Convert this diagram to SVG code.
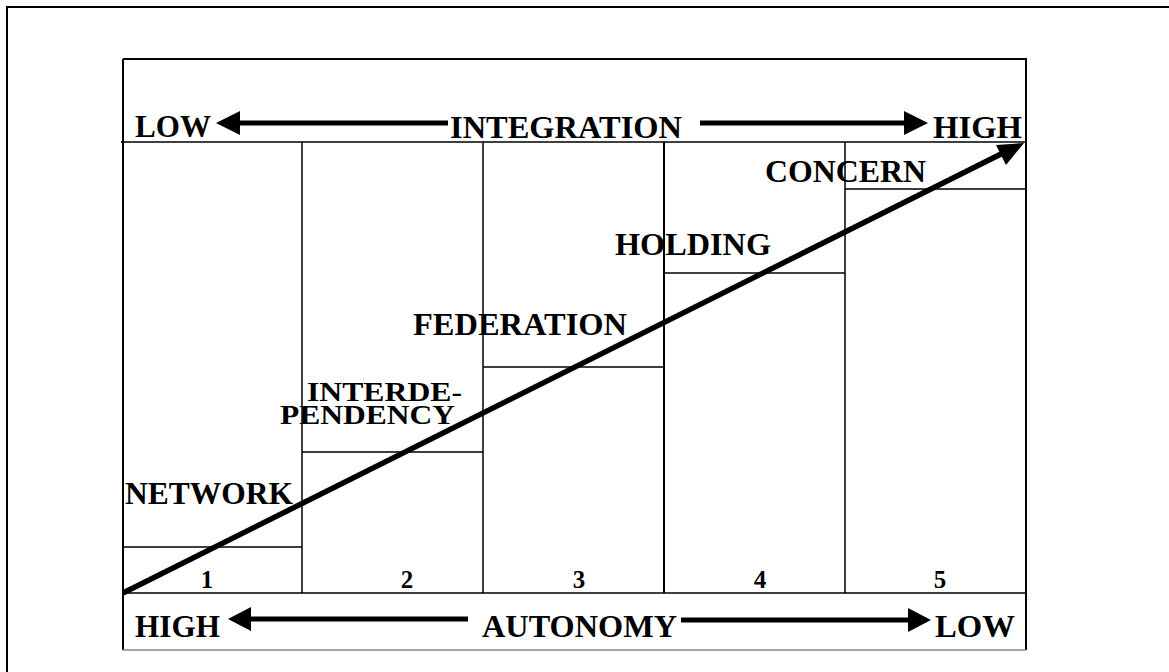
<svg xmlns="http://www.w3.org/2000/svg" width="1169" height="672" viewBox="0 0 1169 672">
<style>
.t{font-family:"Liberation Serif","Times New Roman",serif;font-weight:bold;font-size:31px;fill:#000}
.n{font-family:"Liberation Serif","Times New Roman",serif;font-weight:bold;font-size:25px;fill:#000;text-anchor:middle}
.g{stroke:#000;stroke-width:1.5;fill:none}
.a{stroke:#000;stroke-width:5;fill:none}
</style>
<rect width="1169" height="672" fill="#fff"/>
<rect x="7" y="7" width="1180" height="700" fill="none" stroke="#000" stroke-width="2"/>
<g id="frame">
<path d="M123,59 H1026 V650" fill="none" stroke="#000" stroke-width="2"/>
<path d="M123,59 V650" fill="none" stroke="#000" stroke-width="2"/>
<path d="M123,650 H1026" fill="none" stroke="#888" stroke-width="1.5"/>
<path d="M121,142 H1026 M123,593 H1026" class="g"/>
</g>
<g id="col1">
<path d="M123,547 H302" class="g"/>
<text class="t" x="125" y="504" textLength="168" lengthAdjust="spacingAndGlyphs">NETWORK</text>
<text class="n" x="207" y="588">1</text>
</g>
<g id="col2">
<path d="M302,142 V593 M302,452 H483" class="g"/>
<text class="t" x="307" y="401" textLength="155" lengthAdjust="spacingAndGlyphs" style="font-size:27px">INTERDE-</text>
<text class="t" x="280" y="424" textLength="175" lengthAdjust="spacingAndGlyphs" style="font-size:27px">PENDENCY</text>
<text class="n" x="407" y="588">2</text>
</g>
<g id="col3">
<path d="M483,142 V593 M483,367 H664" class="g"/>
<text class="t" x="413" y="335" textLength="214" lengthAdjust="spacingAndGlyphs">FEDERATION</text>
<text class="n" x="579" y="588">3</text>
</g>
<g id="col4">
<path d="M664,142 V593" stroke="#000" stroke-width="2" fill="none"/>
<path d="M664,273 H845" class="g"/>
<text class="t" x="615" y="255" textLength="156" lengthAdjust="spacingAndGlyphs">HOLDING</text>
<text class="n" x="760" y="588">4</text>
</g>
<g id="col5">
<path d="M845,142 V593 M845,189 H1026" class="g"/>
<text class="t" x="765" y="182" textLength="161" lengthAdjust="spacingAndGlyphs">CONCERN</text>
<text class="n" x="940" y="588">5</text>
</g>
<g id="integration-axis">
<text class="t" x="135" y="137" textLength="76" lengthAdjust="spacingAndGlyphs">LOW</text>
<text class="t" x="450" y="138" textLength="232" lengthAdjust="spacingAndGlyphs">INTEGRATION</text>
<text class="t" x="933" y="138" textLength="89" lengthAdjust="spacingAndGlyphs">HIGH</text>
</g>
<g id="autonomy-axis">
<text class="t" x="135" y="637" textLength="85" lengthAdjust="spacingAndGlyphs">HIGH</text>
<text class="t" x="482" y="637" textLength="195" lengthAdjust="spacingAndGlyphs">AUTONOMY</text>
<text class="t" x="935" y="637" textLength="80" lengthAdjust="spacingAndGlyphs">LOW</text>
</g>
<g id="connectors">
<path d="M448,123 H238" class="a"/>
<path d="M216,123 L240,111 L240,135 z" fill="#000"/>
<path d="M700,123 H906" class="a"/>
<path d="M928,123 L904,111 L904,135 z" fill="#000"/>
<path d="M468,619 H248" class="a"/>
<path d="M228,619 L251,607 L251,631 z" fill="#000"/>
<path d="M681,620 H910" class="a"/>
<path d="M931,620 L908,608 L908,632 z" fill="#000"/>
<path d="M123,593 L1003,153" stroke="#000" stroke-width="5.5" fill="none"/>
<path d="M1024,143 L996,145 L1006,165 z" fill="#000"/>
</g>
</svg>
